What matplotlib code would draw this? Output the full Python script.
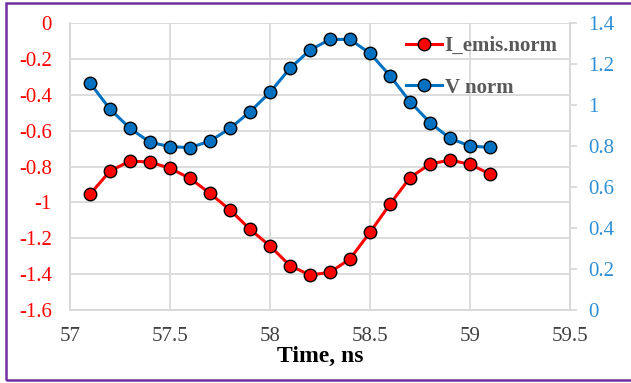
import matplotlib
matplotlib.use("Agg")
import matplotlib.pyplot as plt
from matplotlib.patches import Rectangle
import numpy as np

time_ns = [57.1, 57.2, 57.3, 57.4, 57.5, 57.6, 57.7, 57.8, 57.9, 58.0, 58.1,
           58.2, 58.3, 58.4, 58.5, 58.6, 58.7, 58.8, 58.9, 59.0, 59.1]
i_emis_norm = [-0.955, -0.825, -0.77, -0.775, -0.81, -0.866, -0.95, -1.042, -1.15,
               -1.243, -1.353, -1.405, -1.39, -1.315, -1.167, -1.01, -0.862,
               -0.786, -0.764, -0.788, -0.842]
v_norm = [1.107, 0.98, 0.886, 0.818, 0.797, 0.792, 0.824, 0.886, 0.967, 1.062,
          1.179, 1.268, 1.32, 1.32, 1.252, 1.143, 1.016, 0.914, 0.837, 0.80, 0.793]

x_ticks = [57, 57.5, 58, 58.5, 59, 59.5]
x_ticklabels = ["57", "57.5", "58", "58.5", "59", "59.5"]
left_ticks = [0, -0.2, -0.4, -0.6, -0.8, -1, -1.2, -1.4, -1.6]
left_ticklabels = ["0", "-0.2", "-0.4", "-0.6", "-0.8", "-1", "-1.2", "-1.4", "-1.6"]
right_ticks = [0, 0.2, 0.4, 0.6, 0.8, 1, 1.2, 1.4]
right_ticklabels = ["0", "0.2", "0.4", "0.6", "0.8", "1", "1.2", "1.4"]

plt.rcParams['font.family'] = ['Liberation Serif', 'DejaVu Serif']

W, H = 631, 383
fig = plt.figure(figsize=(W / 100, H / 100), dpi=100)
fig.patch.set_facecolor('white')

# purple border
fig.patches.append(Rectangle((6 / W, 3 / H), (W + 10) / W, 377 / H,
                             transform=fig.transFigure, fill=False,
                             edgecolor='#7030A0', linewidth=1.8, zorder=10))

ax = fig.add_axes([70 / W, (H - 310) / H, 500 / W, 287 / H])
ax2 = ax.twinx()

grid_c = '#D9D9D9'
red = '#FF0000'
blue = '#0070C0'

ax.plot(time_ns, i_emis_norm, color=red, lw=2.2, marker='o', ms=9,
        mfc=red, mec='black', mew=1.0, label='I_emis.norm', zorder=3)
ax2.plot(time_ns, v_norm, color=blue, lw=2.2, marker='o', ms=9,
         mfc=blue, mec='black', mew=1.0, label='V norm', zorder=3)

ax.set_xlim(57, 59.5)
ax.set_ylim(-1.6, 0)
ax2.set_ylim(0, 1.4)

ax.set_xticks(x_ticks)
ax.set_xticklabels(x_ticklabels, fontsize=15, color='#404040')
ax.set_yticks(left_ticks)
ax.set_yticklabels(left_ticklabels, fontsize=15, color=red)
ax2.set_yticks(right_ticks)
ax2.set_yticklabels(right_ticklabels, fontsize=15, color='#2E8FD6')

ax.grid(True, color=grid_c, lw=1.3)
ax.set_axisbelow(True)

for a in (ax, ax2):
    for s in a.spines.values():
        s.set_color(grid_c)
        s.set_linewidth(1.3)
    a.spines['top'].set_visible(False)

ax.tick_params(axis='x', length=0, pad=12)
ax.tick_params(axis='y', length=0, pad=13)
ax2.tick_params(axis='y', length=5, width=1.3, color=grid_c, pad=8)

ax.set_xlabel("Time, ns", fontsize=17, fontweight='bold', color='black', labelpad=0)

h1, l1 = ax.get_legend_handles_labels()
h2, l2 = ax2.get_legend_handles_labels()
leg = ax2.legend(h1 + h2, l1 + l2, loc='upper left', bbox_to_anchor=(0.672, 0.955),
                 frameon=False, fontsize=15, handlelength=1.75, labelspacing=1.05,
                 handletextpad=0.1, borderaxespad=0, borderpad=0)
for t in leg.get_texts():
    t.set_fontweight('bold')
    t.set_color('#595959')

fig.savefig("out.png", dpi=100)
